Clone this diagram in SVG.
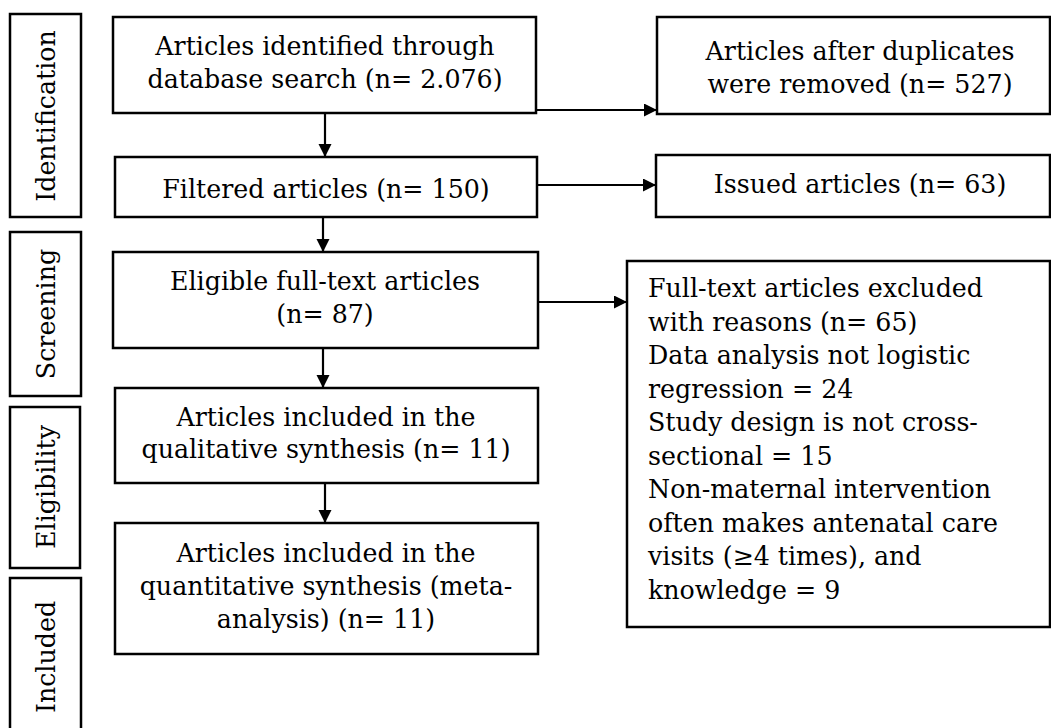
<svg xmlns="http://www.w3.org/2000/svg" width="1051" height="728" viewBox="0 0 1051 728">
  <style>
    .box { fill: #fff; stroke: #000; stroke-width: 2.5; }
    .t { font-family: "DejaVu Serif", "Liberation Serif", serif; font-size: 25.3px; fill: #000; }
    .c { text-anchor: middle; }
    .conn { stroke: #000; stroke-width: 2.2; fill: none; marker-end: url(#arr); }
  </style>
  <defs>
    <marker id="arr" markerUnits="userSpaceOnUse" markerWidth="14" markerHeight="14" refX="13" refY="6.5" orient="auto">
      <path d="M0,0 L13,6.5 L0,13 z" fill="#000"/>
    </marker>
  </defs>
  <rect width="1051" height="728" fill="#fff"/>

  <g id="stage-identification">
    <rect class="box" x="10" y="14" width="71" height="203"/>
    <text class="t c" transform="translate(55,116) rotate(-90)">Identification</text>
  </g>
  <g id="stage-screening">
    <rect class="box" x="10" y="232" width="71" height="164"/>
    <text class="t c" transform="translate(55,314) rotate(-90)">Screening</text>
  </g>
  <g id="stage-eligibility">
    <rect class="box" x="10" y="407" width="70" height="161"/>
    <text class="t c" transform="translate(55,487) rotate(-90)">Eligibility</text>
  </g>
  <g id="stage-included">
    <rect class="box" x="10" y="578" width="71" height="160"/>
    <text class="t c" transform="translate(55,657) rotate(-90)">Included</text>
  </g>

  <g id="n-identified">
    <rect class="box" x="113" y="17" width="423" height="96"/>
    <text class="t c" x="325" y="55">Articles identified through</text>
    <text class="t c" x="325" y="88">database search (n= 2.076)</text>
  </g>
  <g id="n-filtered">
    <rect class="box" x="115" y="157" width="422" height="60"/>
    <text class="t c" x="326" y="198">Filtered articles (n= 150)</text>
  </g>
  <g id="n-eligible">
    <rect class="box" x="113" y="252" width="425" height="96"/>
    <text class="t c" x="325" y="290">Eligible full-text articles</text>
    <text class="t c" x="325" y="323">(n= 87)</text>
  </g>
  <g id="n-qualitative">
    <rect class="box" x="115" y="388" width="423" height="95"/>
    <text class="t c" x="326" y="426">Articles included in the</text>
    <text class="t c" x="326" y="458">qualitative synthesis (n= 11)</text>
  </g>
  <g id="n-quantitative">
    <rect class="box" x="115" y="523" width="423" height="131"/>
    <text class="t c" x="326" y="562">Articles included in the</text>
    <text class="t c" x="326" y="595">quantitative synthesis (meta-</text>
    <text class="t c" x="326" y="628">analysis) (n= 11)</text>
  </g>

  <g id="n-duplicates">
    <rect class="box" x="657" y="17" width="393" height="97"/>
    <text class="t c" x="860" y="60">Articles after duplicates</text>
    <text class="t c" x="860" y="93">were removed (n= 527)</text>
  </g>
  <g id="n-issued">
    <rect class="box" x="656" y="155" width="394" height="62"/>
    <text class="t c" x="860" y="193">Issued articles (n= 63)</text>
  </g>
  <g id="n-excluded">
    <rect class="box" x="627" y="261" width="423" height="366"/>
    <text class="t" x="648" y="297">Full-text articles excluded</text>
    <text class="t" x="648" y="330.5">with reasons (n= 65)</text>
    <text class="t" x="648" y="364">Data analysis not logistic</text>
    <text class="t" x="648" y="397.5">regression = 24</text>
    <text class="t" x="648" y="431">Study design is not cross-</text>
    <text class="t" x="648" y="464.5">sectional = 15</text>
    <text class="t" x="648" y="498">Non-maternal intervention</text>
    <text class="t" x="648" y="531.5">often makes antenatal care</text>
    <text class="t" x="648" y="565">visits (≥4 times), and</text>
    <text class="t" x="648" y="598.5">knowledge = 9</text>
  </g>

  <g id="connectors">
    <line class="conn" x1="537" y1="110" x2="657" y2="110"/>
    <line class="conn" x1="325" y1="113" x2="325" y2="157"/>
    <line class="conn" x1="538" y1="185" x2="656" y2="185"/>
    <line class="conn" x1="323" y1="217" x2="323" y2="252"/>
    <line class="conn" x1="539" y1="302" x2="627" y2="302"/>
    <line class="conn" x1="323" y1="348" x2="323" y2="388"/>
    <line class="conn" x1="325" y1="483" x2="325" y2="523"/>
  </g>
</svg>
